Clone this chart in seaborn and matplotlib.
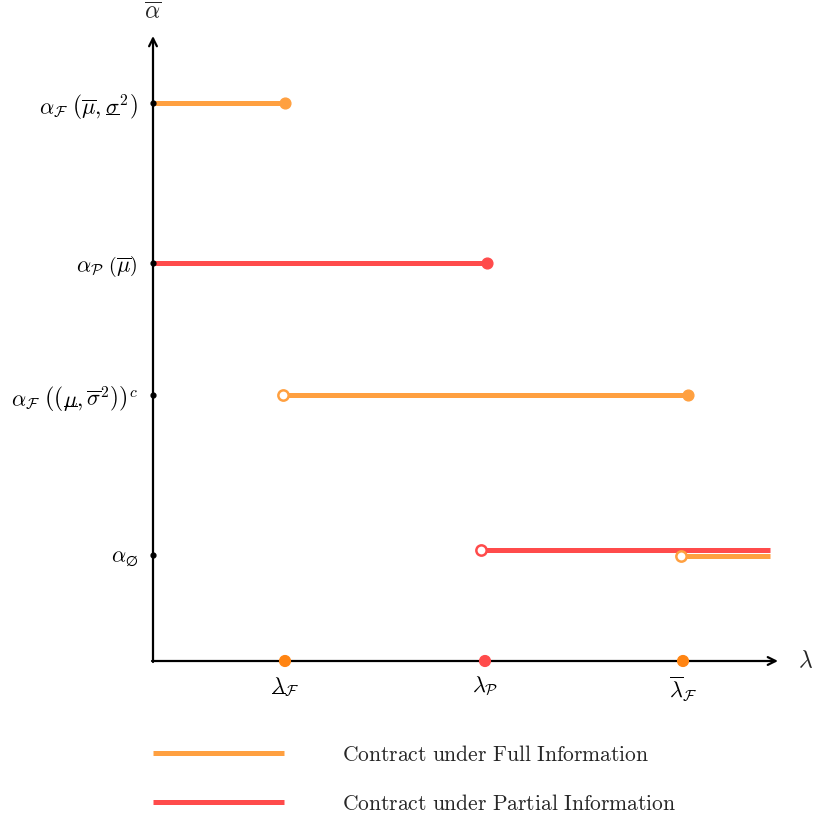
import matplotlib
matplotlib.use("Agg")
import matplotlib.pyplot as plt
import seaborn as sns
import pandas as pd

sns.set_theme(style="white")
plt.rcParams['mathtext.fontset'] = 'cm'
plt.rcParams['font.family'] = ['DejaVu Serif']

ORANGE = '#FFA040'
ORANGE_DOT = '#FF8412'
RED = '#FF4B4B'

# thresholds on the lambda axis
lam_names = [r'${}_{\overline{\;\;\;}}\!\!\!\!\lambda_{\mathcal{F}}$',
             r'$\lambda_{\mathcal{P}}$',
             r'$\overline{\lambda}_{\mathcal{F}}$']
lam_values = [1.32, 3.32, 5.30]
lam_colors = [ORANGE_DOT, RED, ORANGE_DOT]

# alpha levels on the vertical axis
alpha_names = [r'$\alpha_{\mathcal{F}}\ \left(\overline{\mu},{}_{\overline{\;\;\;}}\!\!\!\!\sigma^2\right)$',
               r'$\alpha_{\mathcal{P}}\ \left(\overline{\mu}\right)$',
               r'$\alpha_{\mathcal{F}}\ \left(\left({}_{\overline{\;\;\;}}\!\!\!\!\mu,\overline{\sigma}^2\right)\right)^c$',
               r'$\alpha_{\varnothing}$']
alpha_values = [5.58, 3.98, 2.66, 1.06]

# segments: contract, x start, x end, level, start open?, end closed?
seg_contract = ['Full', 'Full', 'Full', 'Partial', 'Partial']
seg_x0 = [0.0, 1.30, 5.28, 0.0, 3.28]
seg_x1 = [1.32, 5.35, 6.17, 3.34, 6.17]
seg_y = [5.58, 2.66, 1.05, 3.98, 1.11]
seg_open_start = [False, True, True, False, True]
seg_closed_end = [True, True, False, True, False]

palette = {'Full': ORANGE, 'Partial': RED}
legend_names = {'Full': 'Contract under Full Information',
                'Partial': 'Contract under Partial Information'}

rows = []
for i in range(len(seg_x0)):
    rows.append({'x': seg_x0[i], 'y': seg_y[i], 'contract': seg_contract[i], 'seg': i})
    rows.append({'x': seg_x1[i], 'y': seg_y[i], 'contract': seg_contract[i], 'seg': i})
df = pd.DataFrame(rows)

fig = plt.figure(figsize=(8.13, 8.19), dpi=100)
ax = fig.add_axes([153 / 813, (819 - 661) / 819, 623 / 813, 623 / 819])

sns.lineplot(data=df, x='x', y='y', hue='contract', units='seg', estimator=None,
             palette=palette, linewidth=3.6, ax=ax, legend=False,
             solid_capstyle='butt', clip_on=False, zorder=3)

for i in range(len(seg_x0)):
    c = palette[seg_contract[i]]
    if seg_open_start[i]:
        ax.scatter([seg_x0[i]], [seg_y[i]], s=55, facecolor='white', edgecolor=c,
                   linewidth=1.8, zorder=5, clip_on=False)
    if seg_closed_end[i]:
        ax.scatter([seg_x1[i]], [seg_y[i]], s=60, color=c, zorder=5, clip_on=False)

# axes with arrows
ax.set_xlim(0, 6.23)
ax.set_ylim(0, 6.23)
ax.set_xlabel('')
ax.set_ylabel('')
for s in ax.spines.values():
    s.set_visible(False)
arrow = dict(arrowstyle='->', lw=1.6, color='black', shrinkA=0, shrinkB=0, mutation_scale=14)
ax.annotate('', xy=(6.25, 0), xytext=(-0.01, 0), arrowprops=arrow,
            annotation_clip=False, zorder=2)
ax.annotate('', xy=(0, 6.25), xytext=(0, -0.01), arrowprops=arrow,
            annotation_clip=False, zorder=2)

ax.scatter([0] * len(alpha_values), alpha_values, s=12, color='black', zorder=6, clip_on=False)
ax.scatter(lam_values, [0] * len(lam_values), s=60, color=lam_colors, zorder=6, clip_on=False)

ax.set_xticks(lam_values, lam_names)
ax.set_yticks(alpha_values, alpha_names)
ax.tick_params(axis='both', length=0, labelsize=16, colors='black')
ax.tick_params(axis='y', pad=11)
ax.tick_params(axis='x', pad=10)

ax.text(0, 1.042, r'$\overline{\alpha}$', transform=ax.transAxes, ha='center', va='center',
        fontsize=17)
ax.text(1.048, 0, r'$\lambda$', transform=ax.transAxes, ha='center', va='center', fontsize=17)

handles, labels = [], []
for k in ['Full', 'Partial']:
    h, = ax.plot([], [], color=palette[k], linewidth=3.6, solid_capstyle='butt')
    handles.append(h)
    labels.append(r'$\mathrm{' + legend_names[k].replace(' ', r'\ ') + '}$')
ax.legend(handles, labels, loc='upper left', bbox_to_anchor=(153 / 813, 75 / 819),
          bbox_transform=fig.transFigure, frameon=False, fontsize=15.5,
          handlelength=6.1, handletextpad=2.7, labelspacing=1.25, borderaxespad=0,
          borderpad=0)

fig.savefig('out.png', dpi=100)
